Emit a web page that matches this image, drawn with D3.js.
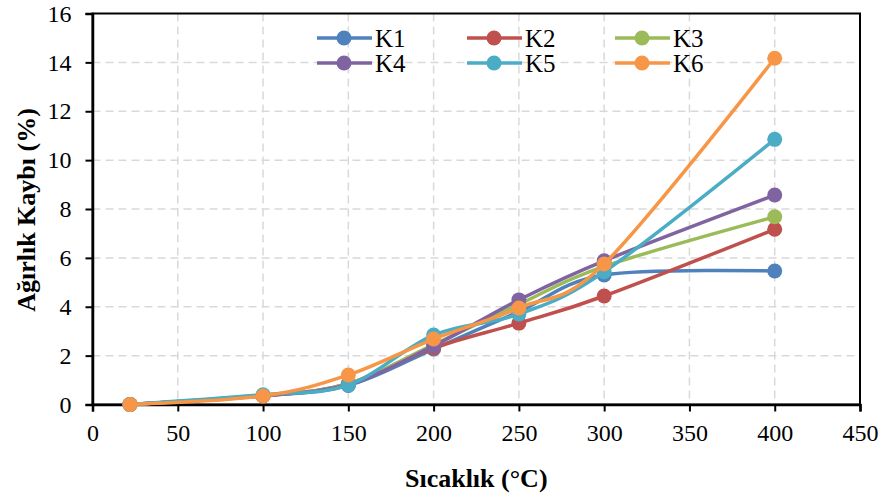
<!DOCTYPE html>
<html>
<head>
<meta charset="utf-8">
<script src="https://cdn.jsdelivr.net/npm/d3@7"></script>
<style>
  html, body { margin: 0; padding: 0; background: #fff; }
  svg { display: block; }
</style>
</head>
<body>
<svg id="chart" width="884" height="501"></svg>
<script>
// ---- data ----
const temperatures = [22, 100, 150, 200, 250, 300, 400];
const seriesNames = ["K1", "K2", "K3", "K4", "K5", "K6"];
const K1 = [0, 0.36, 0.78, 2.27, 3.80, 5.30, 5.46];
const K2 = [0, 0.35, 0.85, 2.31, 3.33, 4.44, 7.17];
const K3 = [0, 0.37, 0.85, 2.45, 4.10, 5.65, 7.68];
const K4 = [0, 0.36, 0.82, 2.40, 4.28, 5.88, 8.57];
const K5 = [0, 0.40, 0.80, 2.84, 3.70, 5.43, 10.85];
const K6 = [0, 0.35, 1.21, 2.68, 3.95, 5.75, 14.17];
const seriesValues = [K1, K2, K3, K4, K5, K6];
const seriesColors = ["#4F81BD", "#C0504D", "#9BBB59", "#8064A2", "#4BACC6", "#F79646"];
const xTicks = [0, 50, 100, 150, 200, 250, 300, 350, 400, 450];
const yTicks = [0, 2, 4, 6, 8, 10, 12, 14, 16];
const xTitle = "Sıcaklık (°C)";
const yTitle = "Ağırlık Kaybı (%)";

const FONT = "'Liberation Serif', 'Times New Roman', Tinos, 'DejaVu Serif', serif";

// ---- layout ----
const svg = d3.select("#chart").attr("font-family", FONT);
const pL = 92.5, pR = 860, pT = 13.5, pB = 404.5;
const x = d3.scaleLinear().domain([0, 450]).range([pL, pR]);
const y = d3.scaleLinear().domain([0, 16]).range([pB, pT]);

// gridlines
const grid = svg.append("g");
grid.selectAll("line.v").data(xTicks.slice(1, -1)).join("line")
  .attr("x1", d => x(d)).attr("x2", d => x(d))
  .attr("y1", pT).attr("y2", pB)
  .attr("stroke", "#D9D9D9").attr("stroke-width", 1.5).attr("stroke-dasharray", "8,5");
grid.selectAll("line.h").data(yTicks.slice(1, -1)).join("line")
  .attr("x1", pL).attr("x2", pR)
  .attr("y1", d => y(d)).attr("y2", d => y(d))
  .attr("stroke", "#D9D9D9").attr("stroke-width", 1.5).attr("stroke-dasharray", "8,5");

// plot border
svg.append("rect").attr("x", pL).attr("y", pT)
  .attr("width", pR - pL).attr("height", pB - pT)
  .attr("fill", "none").attr("stroke", "#000").attr("stroke-width", 2);

// axes
const xAxis = d3.axisBottom(x).tickValues(xTicks).tickSize(7).tickPadding(12);
const gx = svg.append("g").attr("transform", `translate(0,${pB})`).call(xAxis)
  .attr("font-family", FONT).attr("font-size", 24);
gx.select(".domain").attr("stroke", "#000").attr("stroke-width", 2.5);
gx.selectAll(".tick line").attr("stroke", "#000").attr("stroke-width", 2);
gx.selectAll(".tick text").attr("fill", "#000");

const yAxis = d3.axisLeft(y).tickValues(yTicks).tickSize(7).tickPadding(14);
const gy = svg.append("g").attr("transform", `translate(${pL},0)`).call(yAxis)
  .attr("font-family", FONT).attr("font-size", 24);
gy.select(".domain").attr("stroke", "#000").attr("stroke-width", 2.5);
gy.selectAll(".tick line").attr("stroke", "#000").attr("stroke-width", 2);
gy.selectAll(".tick text").attr("fill", "#000");

// axis titles
svg.append("text").attr("x", (pL + pR) / 2).attr("y", 487)
  .attr("text-anchor", "middle").attr("font-size", 26).attr("font-weight", "bold").text(xTitle);
svg.append("text").attr("transform", `translate(35,${(pT + pB) / 2 + 1}) rotate(-90)`)
  .attr("text-anchor", "middle").attr("font-size", 26).attr("font-weight", "bold").text(yTitle);

// series
const line = d3.line().x((d, i) => x(temperatures[i])).y(d => y(d)).curve(d3.curveCardinal.tension(0));
seriesValues.forEach((vals, si) => {
  const g = svg.append("g");
  g.append("path").attr("d", line(vals)).attr("fill", "none")
    .attr("stroke", seriesColors[si]).attr("stroke-width", 3.5).attr("stroke-linejoin", "round");
  g.selectAll("circle").data(vals).join("circle")
    .attr("cx", (d, i) => x(temperatures[i])).attr("cy", d => y(d)).attr("r", 7.5)
    .attr("fill", seriesColors[si]);
});

// legend
const legCols = [317, 467, 615];
const legRows = [38, 63];
const leg = svg.append("g");
seriesNames.forEach((name, i) => {
  const cx = legCols[i % 3], cy = legRows[Math.floor(i / 3)];
  leg.append("line").attr("x1", cx).attr("x2", cx + 55).attr("y1", cy).attr("y2", cy)
    .attr("stroke", seriesColors[i]).attr("stroke-width", 3.5);
  leg.append("circle").attr("cx", cx + 27).attr("cy", cy).attr("r", 7.5).attr("fill", seriesColors[i]);
  leg.append("text").attr("x", cx + 58).attr("y", cy + 8.5).attr("font-size", 25).text(name);
});
</script>
</body>
</html>
